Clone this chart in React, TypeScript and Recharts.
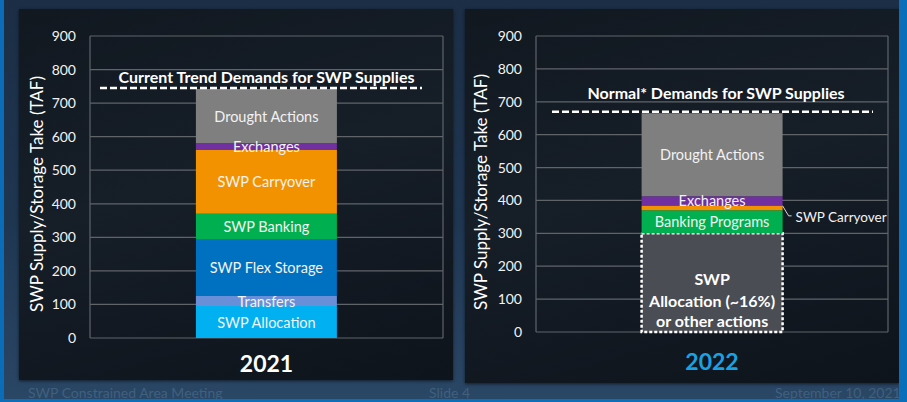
import React from 'react';
import { BarChart, Bar, XAxis, YAxis, CartesianGrid, ReferenceLine, LabelList, Label } from 'recharts';

// ---------- data ----------
const categories2021 = ['2021'];
const seriesNames2021 = ['SWP Allocation', 'Transfers', 'SWP Flex Storage', 'SWP Banking', 'SWP Carryover', 'Exchanges', 'Drought Actions'];
const seriesValues2021 = [95, 30, 170, 75, 190, 21, 161];
const demand2021 = 745;
const demandLabel2021 = 'Current Trend Demands for SWP Supplies';

const categories2022 = ['2022'];
const seriesNames2022 = ['SWP Allocation (~16%) or other actions', 'Banking Programs', 'SWP Carryover', 'Exchanges', 'Drought Actions'];
const seriesValues2022 = [300, 70, 15, 28, 252];
const demand2022 = 670;
const demandLabel2022 = 'Normal* Demands for SWP Supplies';

const yTicks = [0, 100, 200, 300, 400, 500, 600, 700, 800, 900];
const yTitle = 'SWP Supply/Storage Take (TAF)';
const footerLeft = 'SWP Constrained Area Meeting';
const footerMid = 'Slide 4';
const footerRight = 'September 10, 2021';

// ---------- styles ----------
const colors2021 = ['#00b0f0', '#6a8fd9', '#0070c0', '#00b050', '#f39200', '#7030a0', '#7f7f7f'];
const colors2022 = ['#4a4d53', '#00b050', '#f39200', '#7030a0', '#7f7f7f'];
const FONT = 'Lato, "Open Sans", sans-serif';
const GRID = '#5f6469';

const buildRows = (cats: string[], values: number[]) =>
  cats.map((c) => {
    const row: Record<string, any> = { year: c };
    values.forEach((v, i) => {
      row['s' + i] = v;
    });
    return row;
  });

const data2021 = buildRows(categories2021, seriesValues2021);
const data2022 = buildRows(categories2022, seriesValues2022);

const gridVerticals = (props: any) => {
  const o = props.offset;
  return [o.left, o.left + o.width];
};

const makeDemandLine = (insetL: number, insetR: number) => (p: any) => (
  <line
    x1={p.x1 + insetL}
    y1={p.y1}
    x2={p.x2 - insetR}
    y2={p.y2}
    stroke="#ffffff"
    strokeWidth={2.5}
    strokeDasharray="7 3"
  />
);

const makeYTitle = (dx: number, dy: number) => (props: any) => {
  const vb = props.viewBox || {};
  const cx = vb.x + vb.width / 2 + dx;
  const cy = vb.y + vb.height / 2 + dy;
  return (
    <text
      x={cx}
      y={cy}
      transform={`rotate(-90, ${cx}, ${cy})`}
      textAnchor="middle"
      dominantBaseline="central"
      fill="#ffffff"
      fontSize={17}
      fontFamily={FONT}
    >
      {yTitle}
    </text>
  );
};

const makeYearTick = (dy: number, color: string) => (props: any) => (
  <text
    x={props.x}
    y={props.y + dy}
    textAnchor="middle"
    fill={color}
    fontSize={23}
    fontWeight={700}
    fontFamily={FONT}
  >
    {props.payload.value}
  </text>
);

const centerLabel = (name: string) => (props: any) => {
  const { x, y, width, height } = props;
  return (
    <text
      x={x + width / 2}
      y={y + height / 2}
      textAnchor="middle"
      dominantBaseline="central"
      fill="#f2f2f2"
      fontSize={14.5}
      fontFamily={FONT}
    >
      {name}
    </text>
  );
};

const allocationBoxLabel = (props: any) => {
  const { x, y, width, height } = props;
  const cx = x + width / 2;
  const bottom = y + height;
  const common = {
    x: cx,
    textAnchor: 'middle' as const,
    fill: '#ffffff',
    fontSize: 16,
    fontWeight: 700,
    fontFamily: FONT,
  };
  return (
    <g>
      <text {...common} y={bottom - 47}>SWP</text>
      <text {...common} y={bottom - 25}>Allocation (~16%)</text>
      <text {...common} y={bottom - 5}>or other actions</text>
    </g>
  );
};

const sideLabel = (name: string) => (props: any) => {
  const { x, y, width, height } = props;
  const sx = x + width;
  const sy = y + height / 2 - 2;
  return (
    <g>
      <polyline
        points={`${sx},${sy} ${sx + 6},${sy + 10} ${sx + 9},${sy + 10}`}
        fill="none"
        stroke="#d9d9d9"
        strokeWidth={1}
      />
      <text
        x={sx + 13}
        y={sy + 11}
        dominantBaseline="central"
        fill="#f2f2f2"
        fontSize={13.5}
        fontFamily={FONT}
      >
        {name}
      </text>
    </g>
  );
};

const tickStyle = { fill: '#f2f2f2', fontSize: 14, fontFamily: FONT };

const Chart2021 = () => (
  <BarChart
    width={434}
    height={371}
    data={data2021}
    margin={{ top: 27, right: 10, bottom: 0, left: 0 }}
    barCategoryGap="30%"
  >
    <CartesianGrid stroke={GRID} strokeWidth={1.2} verticalCoordinatesGenerator={gridVerticals} />
    <XAxis
      dataKey="year"
      height={42}
      axisLine={false}
      tickLine={false}
      tickSize={0}
      tickMargin={0}
      tick={makeYearTick(34, '#ffffff')}
    />
    <YAxis
      width={71}
      domain={[0, 900]}
      ticks={yTicks}
      axisLine={false}
      tickLine={false}
      tickSize={0}
      tickMargin={14}
      tick={tickStyle}
    >
      <Label content={makeYTitle(-18.5, 7)} position="center" />
    </YAxis>
    {seriesNames2021.map((name, i) => (
      <Bar key={name} dataKey={'s' + i} name={name} stackId="a" fill={colors2021[i]} isAnimationActive={false}>
        <LabelList dataKey={'s' + i} content={centerLabel(name)} />
      </Bar>
    ))}
    <ReferenceLine
      y={demand2021}
      stroke="#ffffff"
      shape={makeDemandLine(10, 21)}
      label={{
        value: demandLabel2021,
        position: 'top',
        offset: 5,
        fill: '#ffffff',
        fontSize: 16,
        fontWeight: 700,
        fontFamily: FONT,
      }}
    />
  </BarChart>
);

const Chart2022 = () => (
  <BarChart
    width={434}
    height={374}
    data={data2022}
    margin={{ top: 27, right: 11, bottom: 0, left: 0 }}
    barCategoryGap="30%"
  >
    <CartesianGrid stroke={GRID} strokeWidth={1.2} verticalCoordinatesGenerator={gridVerticals} />
    <XAxis
      dataKey="year"
      height={51}
      axisLine={false}
      tickLine={false}
      tickSize={0}
      tickMargin={0}
      tick={makeYearTick(38, '#1ba1e2')}
    />
    <YAxis
      width={71}
      domain={[0, 900]}
      ticks={yTicks}
      axisLine={false}
      tickLine={false}
      tickSize={0}
      tickMargin={14}
      tick={tickStyle}
    >
      <Label content={makeYTitle(-20.5, 8)} position="center" />
    </YAxis>
    {seriesNames2022.map((name, i) => (
      <Bar
        key={name}
        dataKey={'s' + i}
        name={name}
        stackId="a"
        fill={colors2022[i]}
        stroke={i === 0 ? '#ffffff' : undefined}
        strokeWidth={i === 0 ? 2.5 : 0}
        strokeDasharray={i === 0 ? '3 2' : undefined}
        isAnimationActive={false}
      >
        <LabelList
          dataKey={'s' + i}
          content={i === 0 ? allocationBoxLabel : i === 2 ? sideLabel(name) : centerLabel(name)}
        />
      </Bar>
    ))}
    <ReferenceLine
      y={demand2022}
      stroke="#ffffff"
      shape={makeDemandLine(16, 15)}
      label={{
        value: demandLabel2022,
        position: 'top',
        offset: 13,
        dx: 4,
        fill: '#ffffff',
        fontSize: 16,
        fontWeight: 700,
        fontFamily: FONT,
      }}
    />
  </BarChart>
);

const panelStyle: React.CSSProperties = {
  position: 'absolute',
  background: 'linear-gradient(165deg, #111820 0%, #161e28 45%, #121922 70%, #0e141b 100%)',
  boxShadow: '0 1px 3px rgba(0,0,0,0.6)',
};

const footerStyle: React.CSSProperties = {
  position: 'absolute',
  top: 385,
  fontSize: 14,
  lineHeight: '16px',
  color: '#40607e',
  fontFamily: FONT,
  whiteSpace: 'nowrap',
};

export default function App() {
  return (
    <div
      style={{
        position: 'absolute',
        left: 0,
        top: 0,
        width: 907,
        height: 402,
        overflow: 'hidden',
        background: 'linear-gradient(180deg, #1b2e45 0%, #1f3651 55%, #2a4766 100%)',
        fontFamily: FONT,
      }}
    >
      <div style={{ ...panelStyle, left: 19, top: 9, width: 434, height: 371 }}>
        <Chart2021 />
      </div>
      <div style={{ ...panelStyle, left: 465, top: 9, width: 434, height: 374 }}>
        <Chart2022 />
      </div>
      <div style={{ ...footerStyle, left: 28 }}>{footerLeft}</div>
      <div style={{ ...footerStyle, left: 429 }}>{footerMid}</div>
      <div style={{ ...footerStyle, left: 775 }}>{footerRight}</div>
      <div style={{ position: 'absolute', left: 0, top: 0, width: 4, height: 402, background: '#0b6cb7' }} />
      <div style={{ position: 'absolute', left: 899, top: 0, width: 8, height: 402, background: '#0a6fbb' }} />
      <div style={{ position: 'absolute', left: 0, top: 399, width: 907, height: 3, background: '#0a6fbb' }} />
    </div>
  );
}
